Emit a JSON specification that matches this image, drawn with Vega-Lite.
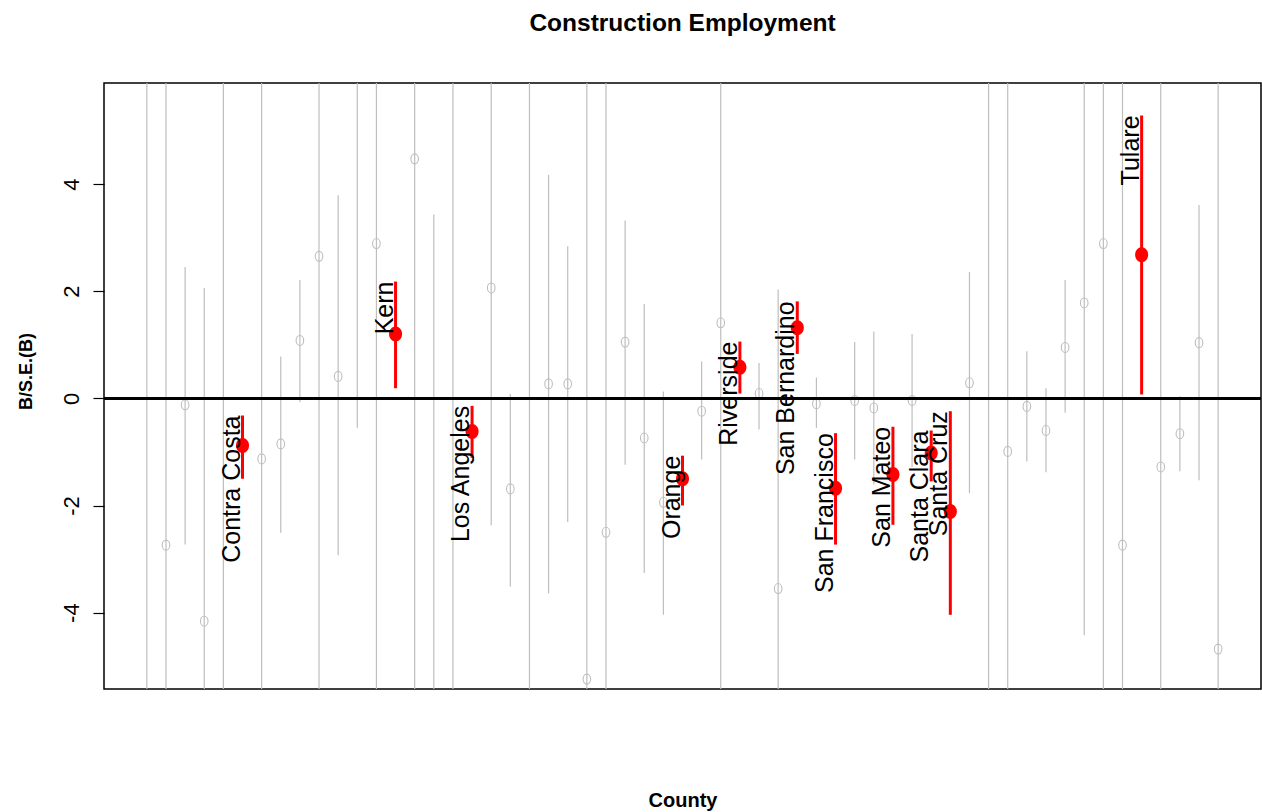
{
  "$schema": "https://vega.github.io/schema/vega-lite/v6.json",
  "autosize": {"type": "none"},
  "padding": {"left": 104, "top": 83, "right": 1, "bottom": 123},
  "width": 1157,
  "height": 606,
  "background": "white",
  "config": {
    "locale": {
      "number": {
        "decimal": ".",
        "thousands": ",",
        "grouping": [3],
        "currency": ["$", ""],
        "minus": "-"
      }
    },
    "view": {"stroke": "black", "strokeWidth": 1.5},
    "axis": {"grid": false, "domain": false},
    "axisX": {
      "labels": false,
      "ticks": false,
      "titleFont": "Liberation Sans",
      "titleFontSize": 20,
      "titleFontWeight": "bold",
      "titleColor": "black",
      "titleBaseline": "alphabetic",
      "titleY": 117
    },
    "axisY": {
      "tickCount": 5,
      "ticks": true,
      "labelAngle": 270,
      "labelAlign": "center",
      "labelBaseline": "alphabetic",
      "labelFont": "Liberation Sans",
      "labelFontSize": 22,
      "labelColor": "black",
      "labelPadding": 15,
      "tickSize": 11,
      "tickColor": "black",
      "tickWidth": 1.2,
      "tickOpacity": 1,
      "titleFont": "Liberation Sans",
      "titleFontSize": 18,
      "titleFontWeight": "bold",
      "titleColor": "black",
      "titleAngle": 270,
      "titleAlign": "center",
      "titleBaseline": "alphabetic",
      "titleX": -73,
      "titleY": 288
    }
  },
  "title": {
    "text": "Construction Employment",
    "font": "Liberation Sans",
    "fontSize": 24.5,
    "fontWeight": "bold",
    "color": "black",
    "anchor": "middle",
    "frame": "group",
    "baseline": "alphabetic",
    "offset": 28
  },
  "data": {
    "values": [
      {"county": "Alpine", "idx": 1, "est": 6.8, "lo": -9.0, "hi": 22.0, "sig": false},
      {"county": "Amador", "idx": 2, "est": -2.74, "lo": -11.74, "hi": 6.26, "sig": false},
      {"county": "Butte", "idx": 3, "est": -0.12, "lo": -2.73, "hi": 2.45, "sig": false},
      {"county": "Calaveras", "idx": 4, "est": -4.16, "lo": -10.38, "hi": 2.06, "sig": false},
      {"county": "Colusa", "idx": 5, "est": -6.5, "lo": -20.0, "hi": 7.0, "sig": false},
      {"county": "Contra Costa", "idx": 6, "est": -0.88, "lo": -1.5, "hi": -0.32, "sig": true},
      {"county": "Del Norte", "idx": 7, "est": -1.13, "lo": -8.63, "hi": 6.37, "sig": false},
      {"county": "El Dorado", "idx": 8, "est": -0.85, "lo": -2.51, "hi": 0.78, "sig": false},
      {"county": "Fresno", "idx": 9, "est": 1.08, "lo": -0.07, "hi": 2.21, "sig": false},
      {"county": "Glenn", "idx": 10, "est": 2.65, "lo": -5.85, "hi": 11.15, "sig": false},
      {"county": "Humboldt", "idx": 11, "est": 0.41, "lo": -2.93, "hi": 3.79, "sig": false},
      {"county": "Imperial", "idx": 12, "est": 6.3, "lo": -0.55, "hi": 13.15, "sig": false},
      {"county": "Inyo", "idx": 13, "est": 2.89, "lo": -6.5, "hi": 12.3, "sig": false},
      {"county": "Kern", "idx": 14, "est": 1.2, "lo": 0.19, "hi": 2.18, "sig": true},
      {"county": "Kings", "idx": 15, "est": 4.47, "lo": -6.03, "hi": 14.97, "sig": false},
      {"county": "Lake", "idx": 16, "est": -5.8, "lo": -15.0, "hi": 3.43, "sig": false},
      {"county": "Lassen", "idx": 17, "est": 6.5, "lo": -8.0, "hi": 21.0, "sig": false},
      {"county": "Los Angeles", "idx": 18, "est": -0.62, "lo": -1.11, "hi": -0.14, "sig": true},
      {"county": "Madera", "idx": 19, "est": 2.06, "lo": -2.37, "hi": 6.49, "sig": false},
      {"county": "Marin", "idx": 20, "est": -1.69, "lo": -3.51, "hi": 0.08, "sig": false},
      {"county": "Mariposa", "idx": 21, "est": -6.8, "lo": -22.0, "hi": 8.4, "sig": false},
      {"county": "Mendocino", "idx": 22, "est": 0.27, "lo": -3.64, "hi": 4.17, "sig": false},
      {"county": "Merced", "idx": 23, "est": 0.27, "lo": -2.31, "hi": 2.84, "sig": false},
      {"county": "Modoc", "idx": 24, "est": -5.24, "lo": -16.0, "hi": 6.0, "sig": false},
      {"county": "Mono", "idx": 25, "est": -2.5, "lo": -11.0, "hi": 6.0, "sig": false},
      {"county": "Monterey", "idx": 26, "est": 1.05, "lo": -1.24, "hi": 3.32, "sig": false},
      {"county": "Napa", "idx": 27, "est": -0.74, "lo": -3.26, "hi": 1.76, "sig": false},
      {"county": "Nevada", "idx": 28, "est": -1.94, "lo": -4.04, "hi": 0.13, "sig": false},
      {"county": "Orange", "idx": 29, "est": -1.5, "lo": -2.0, "hi": -1.07, "sig": true},
      {"county": "Placer", "idx": 30, "est": -0.24, "lo": -1.14, "hi": 0.69, "sig": false},
      {"county": "Plumas", "idx": 31, "est": 1.41, "lo": -7.5, "hi": 10.3, "sig": false},
      {"county": "Riverside", "idx": 32, "est": 0.58, "lo": 0.09, "hi": 1.06, "sig": true},
      {"county": "Sacramento", "idx": 33, "est": 0.09, "lo": -0.58, "hi": 0.66, "sig": false},
      {"county": "San Benito", "idx": 34, "est": -3.55, "lo": -9.13, "hi": 2.03, "sig": false},
      {"county": "San Bernardino", "idx": 35, "est": 1.32, "lo": 0.83, "hi": 1.81, "sig": true},
      {"county": "San Diego", "idx": 36, "est": -0.1, "lo": -0.55, "hi": 0.39, "sig": false},
      {"county": "San Francisco", "idx": 37, "est": -1.68, "lo": -2.73, "hi": -0.65, "sig": true},
      {"county": "San Joaquin", "idx": 38, "est": -0.04, "lo": -1.14, "hi": 1.05, "sig": false},
      {"county": "San Luis Obispo", "idx": 39, "est": -0.18, "lo": -1.61, "hi": 1.25, "sig": false},
      {"county": "San Mateo", "idx": 40, "est": -1.42, "lo": -2.36, "hi": -0.53, "sig": true},
      {"county": "Santa Barbara", "idx": 41, "est": -0.04, "lo": -1.28, "hi": 1.2, "sig": false},
      {"county": "Santa Clara", "idx": 42, "est": -1.02, "lo": -1.55, "hi": -0.6, "sig": true},
      {"county": "Santa Cruz", "idx": 43, "est": -2.11, "lo": -4.04, "hi": -0.24, "sig": true},
      {"county": "Shasta", "idx": 44, "est": 0.29, "lo": -1.77, "hi": 2.36, "sig": false},
      {"county": "Sierra", "idx": 45, "est": 7.0, "lo": -10.0, "hi": 24.0, "sig": false},
      {"county": "Siskiyou", "idx": 46, "est": -0.99, "lo": -8.0, "hi": 6.0, "sig": false},
      {"county": "Solano", "idx": 47, "est": -0.15, "lo": -1.18, "hi": 0.88, "sig": false},
      {"county": "Sonoma", "idx": 48, "est": -0.6, "lo": -1.38, "hi": 0.19, "sig": false},
      {"county": "Stanislaus", "idx": 49, "est": 0.95, "lo": -0.27, "hi": 2.21, "sig": false},
      {"county": "Sutter", "idx": 50, "est": 1.78, "lo": -4.42, "hi": 7.98, "sig": false},
      {"county": "Tehama", "idx": 51, "est": 2.89, "lo": -6.0, "hi": 11.8, "sig": false},
      {"county": "Trinity", "idx": 52, "est": -2.74, "lo": -11.5, "hi": 6.0, "sig": false},
      {"county": "Tulare", "idx": 53, "est": 2.68, "lo": 0.07, "hi": 5.28, "sig": true},
      {"county": "Tuolumne", "idx": 54, "est": -1.28, "lo": -9.0, "hi": 6.5, "sig": false},
      {"county": "Ventura", "idx": 55, "est": -0.66, "lo": -1.36, "hi": 0.04, "sig": false},
      {"county": "Yolo", "idx": 56, "est": 1.04, "lo": -1.53, "hi": 3.61, "sig": false},
      {"county": "Yuba", "idx": 57, "est": -4.68, "lo": -15.0, "hi": 6.0, "sig": false}
    ]
  },
  "layer": [
    {
      "transform": [{"filter": "!datum.sig"}],
      "mark": {"type": "rule", "color": "#BEBEBE", "strokeWidth": 1.2, "clip": true},
      "encoding": {
        "x": {
          "field": "idx", "type": "quantitative", "title": "County",
          "scale": {"domain": [-1.24, 59.24], "nice": false, "zero": false}
        },
        "y": {
          "field": "lo", "type": "quantitative", "title": "B/S.E.(B)",
          "scale": {"domain": [-5.425, 5.886], "nice": false, "zero": false}
        },
        "y2": {"field": "hi"}
      }
    },
    {
      "transform": [{"filter": "!datum.sig"}],
      "mark": {
        "type": "point",
        "shape": "M-0.76,0A0.76,1,0,1,0,0.76,0A0.76,1,0,1,0,-0.76,0Z",
        "filled": false,
        "stroke": "#BEBEBE",
        "strokeWidth": 1.1,
        "opacity": 1,
        "size": 100,
        "clip": true
      },
      "encoding": {
        "x": {"field": "idx", "type": "quantitative", "title": "County"},
        "y": {"field": "est", "type": "quantitative", "title": "B/S.E.(B)"}
      }
    },
    {
      "mark": {"type": "rule", "color": "black", "strokeWidth": 2.5},
      "encoding": {
        "y": {"datum": 0, "type": "quantitative", "title": "B/S.E.(B)"}
      }
    },
    {
      "transform": [{"filter": "datum.sig"}],
      "mark": {"type": "rule", "color": "#FF0000", "strokeWidth": 3},
      "encoding": {
        "x": {"field": "idx", "type": "quantitative", "title": "County"},
        "y": {"field": "lo", "type": "quantitative", "title": "B/S.E.(B)"},
        "y2": {"field": "hi"}
      }
    },
    {
      "transform": [{"filter": "datum.sig"}],
      "mark": {
        "type": "point",
        "shape": "M-0.87,0A0.87,1,0,1,0,0.87,0A0.87,1,0,1,0,-0.87,0Z",
        "filled": true,
        "color": "#FF0000",
        "opacity": 1,
        "size": 225
      },
      "encoding": {
        "x": {"field": "idx", "type": "quantitative", "title": "County"},
        "y": {"field": "est", "type": "quantitative", "title": "B/S.E.(B)"}
      }
    },
    {
      "transform": [{"filter": "datum.sig"}],
      "mark": {
        "type": "text",
        "angle": 270,
        "align": "right",
        "baseline": "alphabetic",
        "dy": -3,
        "font": "Liberation Sans",
        "fontSize": 25,
        "color": "black"
      },
      "encoding": {
        "x": {"field": "idx", "type": "quantitative", "title": "County"},
        "y": {"field": "hi", "type": "quantitative", "title": "B/S.E.(B)"},
        "text": {"field": "county"}
      }
    }
  ]
}
